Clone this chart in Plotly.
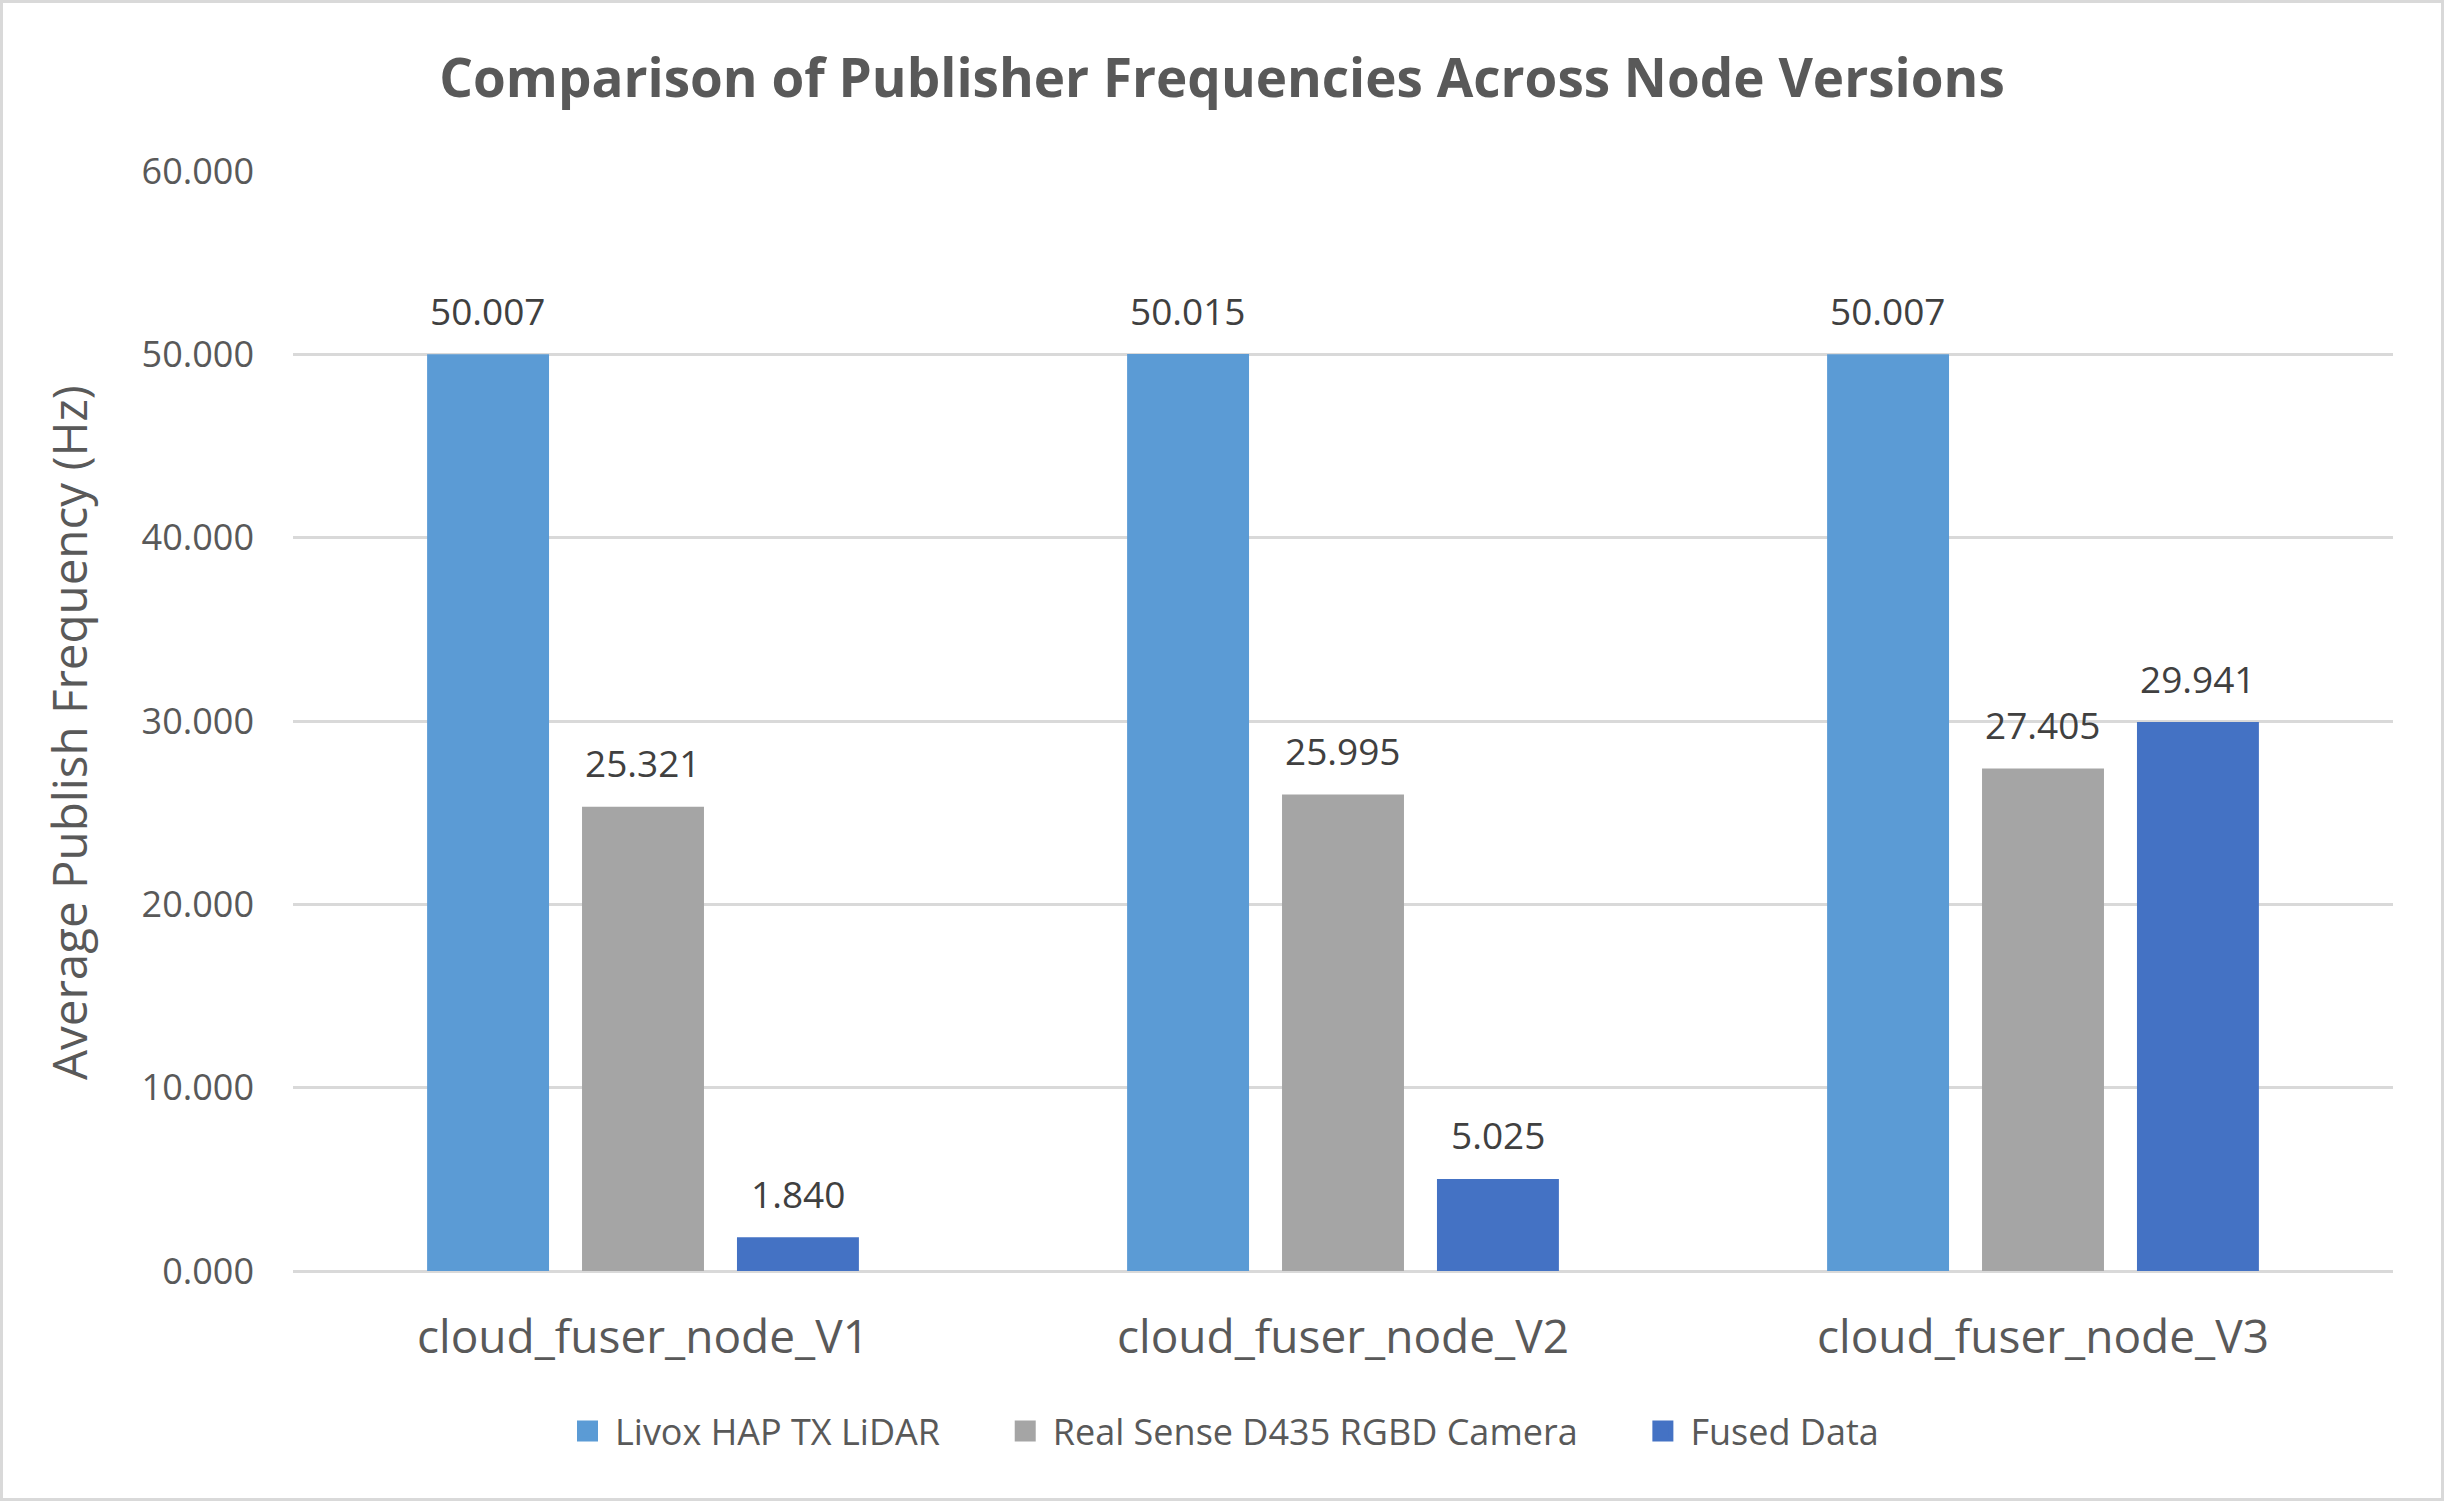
import plotly.graph_objects as go

categories = ["cloud_fuser_node_V1", "cloud_fuser_node_V2", "cloud_fuser_node_V3"]
series_names = ["Livox HAP TX LiDAR", "Real Sense D435 RGBD Camera", "Fused Data"]
livox = [50.007, 50.015, 50.007]
realsense = [25.321, 25.995, 27.405]
fused = [1.840, 5.025, 29.941]
y_ticks = [0, 10, 20, 30, 40, 50, 60]

series_values = [livox, realsense, fused]
colors = ["#5B9BD5", "#A5A5A5", "#4472C4"]
FONT = "Open Sans"

W, H = 2444, 1501
ML, MR, MT, MB = 293, 51, 171, 230
PW, PH = W - ML - MR, H - MT - MB

BARGAP = 0.336
BARGROUPGAP = 0.213
PAD = "\u00a0" * 5 + "\u2009"

fig = go.Figure()
for name, vals, col in zip(series_names, series_values, colors):
    fig.add_trace(go.Bar(x=categories, y=vals, name=name, marker_color=col,
                         marker_line_width=0, showlegend=False))
# legend proxies
for k, (name, col) in enumerate(zip(series_names, colors)):
    label = name + (PAD if k < len(series_names) - 1 else "")
    fig.add_trace(go.Scatter(x=[None], y=[None], mode="markers", name=label,
                             marker=dict(symbol="square", size=16, color=col,
                                         line=dict(color=col, width=5))))

# data labels through axes
slot = (1 - BARGAP) / len(series_names)
annotations = []
for j, vals in enumerate(series_values):
    for i, v in enumerate(vals):
        annotations.append(dict(
            x=i + (j - 1) * slot, y=v, xref="x", yref="y",
            text=f"{v:.3f}", showarrow=False, yanchor="middle", yshift=44,
            font=dict(family=FONT, size=37, color="#404040")))

# y-axis title
annotations.append(dict(
    text="Average Publish Frequency (Hz)", xref="paper", yref="paper",
    x=(68 - ML) / PW, y=(1271 - 733) / PH, xanchor="center", yanchor="middle",
    textangle=-90, showarrow=False,
    font=dict(family=FONT, size=47.5, color="#595959")))

fig.update_layout(
    width=W, height=H,
    margin=dict(l=ML, r=MR, t=MT, b=MB, autoexpand=False),
    paper_bgcolor="white", plot_bgcolor="white",
    barmode="group", bargap=BARGAP, bargroupgap=BARGROUPGAP,
    title=dict(text="<b>Comparison of Publisher Frequencies Across Node Versions</b>",
               x=0.5, xref="container", xanchor="center",
               y=1 - 78 / H, yref="container", yanchor="middle",
               font=dict(family=FONT, size=53, color="#595959")),
    xaxis=dict(type="category", showgrid=False, showline=False, ticks="",
               tickfont=dict(family=FONT, size=46, color="#595959"),
               tickangle=0, automargin=False,
               ticklabelstandoff=35, fixedrange=True),
    yaxis=dict(range=[0, 60], tickvals=y_ticks, tickformat=".3f",
               showgrid=True, gridcolor="#D9D9D9", gridwidth=3,
               zeroline=True, zerolinecolor="#D9D9D9", zerolinewidth=3,
               showline=False, ticks="", automargin=False,
               tickfont=dict(family=FONT, size=36, color="#595959"),
               ticklabelstandoff=38, fixedrange=True),
    legend=dict(orientation="h", x=(W / 2 - ML) / PW, xanchor="center",
                y=(1271 - 1431) / PH, yanchor="middle",
                font=dict(family=FONT, size=36, color="#595959"),
                itemsizing="trace", itemwidth=45, tracegroupgap=0),
    annotations=annotations,
    shapes=[dict(type="rect", xref="paper", yref="paper",
                 x0=(1.5 - ML) / PW, x1=(W - 1.5 - ML) / PW,
                 y0=-(H - 1.5 - MT - PH) / PH, y1=(PH + MT - 1.5) / PH,
                 line=dict(color="#D9D9D9", width=3), layer="below")],
)

fig.write_html("out.html", config={"displayModeBar": False},
               post_script="document.body.style.margin='0';document.body.style.overflow='hidden';")
